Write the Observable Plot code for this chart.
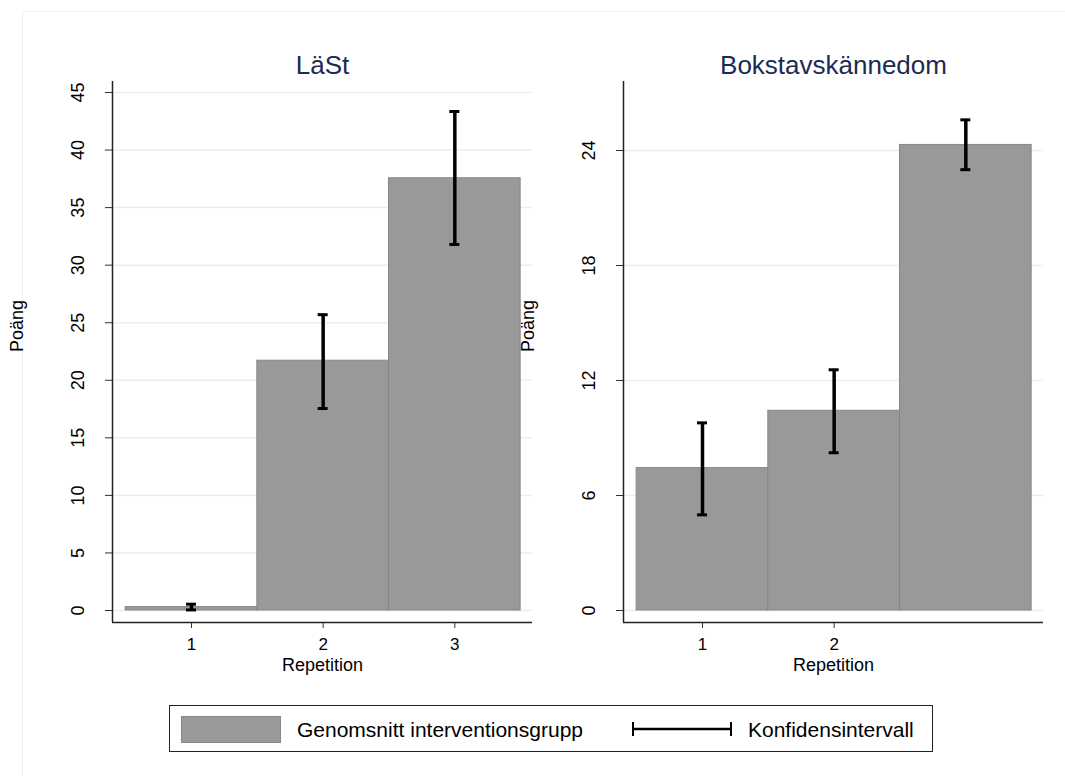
<!DOCTYPE html>
<html>
<head>
<meta charset="utf-8">
<script src="https://cdn.jsdelivr.net/npm/d3@7"></script>
<script src="https://cdn.jsdelivr.net/npm/@observablehq/plot@0.6"></script>
<style>
  body { margin: 0; background: #fff; }
  #root { position: relative; width: 1065px; height: 776px; overflow: hidden; background: #fff;
          font-family: "Liberation Sans", Arial, sans-serif; }
  .outer { position: absolute; left: 22px; top: 11px; width: 1100px; height: 820px;
           border: 1px solid #edf1f4; box-sizing: border-box; }
  .panel { position: absolute; top: 0; }
  .legend-box { position: absolute; left: 169px; top: 705px; width: 764px; height: 47px;
                border: 1.5px solid #222; box-sizing: border-box; background: #fff; }
  .swatch { position: absolute; left: 181px; top: 716px; width: 100px; height: 27px;
            background: #999999; border: 1px solid #888; box-sizing: border-box; }
  .ltext { position: absolute; top: 719px; font-size: 21px; line-height: 21px; color: #000; white-space: nowrap; }
</style>
</head>
<body>
<div id="root"><div class="outer"></div></div>
<script>
// ---- data ----
const repetitions = [1, 2, 3];

const lastTitle = "LäSt";
const lastMeans = [0.3, 21.7, 37.55];
const lastLow   = [0.05, 17.55, 31.8];
const lastHigh  = [0.55, 25.7, 43.35];
const lastYTicks = [0, 5, 10, 15, 20, 25, 30, 35, 40, 45];
const lastXTicks = [1, 2, 3];

const bokTitle = "Bokstavskännedom";
const bokMeans = [7.43, 10.42, 24.29];
const bokLow   = [4.99, 8.23, 23.0];
const bokHigh  = [9.79, 12.56, 25.6];
const bokYTicks = [0, 6, 12, 18, 24];
const bokXTicks = [1, 2];

const xLabel = "Repetition";
const yLabel = "Poäng";
const legendMean = "Genomsnitt interventionsgrupp";
const legendCI = "Konfidensintervall";

// ---- drawing ----
const root = document.getElementById("root");
const H = 690;
const FONT = "Liberation Sans, Arial, sans-serif";
const fmt = d3.format("d");

function panel({title, means, low, high, yTicks, xTicks, yDomain, left, width, ml, mr}) {
  const data = repetitions.map((r, i) => ({rep: r, mean: means[i], lo: low[i], hi: high[i]}));
  const xDomain = [0.4, 3.59];
  const cap = 0.038;
  const chart = Plot.plot({
    width, height: H,
    marginLeft: ml, marginRight: mr, marginTop: 81, marginBottom: H - 622,
    x: {type: "linear", domain: xDomain},
    y: {type: "linear", domain: yDomain},
    style: {fontFamily: FONT, fontSize: "18px", color: "#000", background: "transparent", overflow: "visible"},
    marks: [
      Plot.gridY(yTicks, {stroke: "#e6eef2", strokeOpacity: 1, strokeWidth: 1.5}),
      Plot.rectY(data, {x1: d => d.rep - 0.5, x2: d => d.rep + 0.5, y1: 0, y2: "mean",
                        fill: "#999999", stroke: "#878787", strokeWidth: 1}),
      Plot.ruleX(data, {x: "rep", y1: "lo", y2: "hi", stroke: "#000", strokeWidth: 3.5}),
      Plot.ruleY(data, {y: "hi", x1: d => d.rep - cap, x2: d => d.rep + cap, stroke: "#000", strokeWidth: 3}),
      Plot.ruleY(data, {y: "lo", x1: d => d.rep - cap, x2: d => d.rep + cap, stroke: "#000", strokeWidth: 3}),
      Plot.axisY(yTicks, {tickSize: 7, tickPadding: 22, tickRotate: -90, label: null, fontSize: 18,
                          stroke: "#333", tickFormat: fmt}),
      Plot.axisX(xTicks, {tickSize: 6, tickPadding: 9, label: null, fontSize: 17,
                          stroke: "#333", tickFormat: fmt}),
      Plot.ruleX([xDomain[0]], {stroke: "#222", strokeWidth: 1.5}),
      Plot.ruleY([yDomain[0]], {stroke: "#222", strokeWidth: 1.5}),
      Plot.text([xLabel], {frameAnchor: "bottom", dy: 48, fontSize: 18, fill: "#000"}),
      Plot.text([yLabel], {frameAnchor: "left", rotate: -90, dx: -95, fontSize: 18, fill: "#000"}),
      Plot.text([title], {frameAnchor: "top", lineAnchor: "bottom", dy: -8, fontSize: 26, fill: "#1c2b53"})
    ]
  });
  chart.classList.add("panel");
  chart.style.left = left + "px";
  root.appendChild(chart);
}

panel({title: lastTitle, means: lastMeans, low: lastLow, high: lastHigh,
       yTicks: lastYTicks, xTicks: lastXTicks, yDomain: [-1.042, 45.956],
       left: 0, width: 540, ml: 112, mr: 8});
panel({title: bokTitle, means: bokMeans, low: bokLow, high: bokHigh,
       yTicks: bokYTicks, xTicks: bokXTicks, yDomain: [-0.626, 27.6],
       left: 510, width: 555, ml: 113, mr: 22});

// ---- legend ----
const box = document.createElement("div"); box.className = "legend-box"; root.appendChild(box);
const sw = document.createElement("div"); sw.className = "swatch"; root.appendChild(sw);
const t1 = document.createElement("div"); t1.className = "ltext"; t1.style.left = "297px"; t1.textContent = legendMean; root.appendChild(t1);
const t2 = document.createElement("div"); t2.className = "ltext"; t2.style.left = "748px"; t2.textContent = legendCI; root.appendChild(t2);
const ns = "http://www.w3.org/2000/svg";
const sym = document.createElementNS(ns, "svg");
sym.setAttribute("width", 110); sym.setAttribute("height", 20);
sym.style.position = "absolute"; sym.style.left = "627px"; sym.style.top = "719px";
sym.innerHTML = '<line x1="5" x2="105" y1="10" y2="10" stroke="#000" stroke-width="2.5"/>' +
  '<line x1="6" x2="6" y1="3" y2="17" stroke="#000" stroke-width="2"/>' +
  '<line x1="104" x2="104" y1="3" y2="17" stroke="#000" stroke-width="2"/>';
root.appendChild(sym);
</script>
</body>
</html>
